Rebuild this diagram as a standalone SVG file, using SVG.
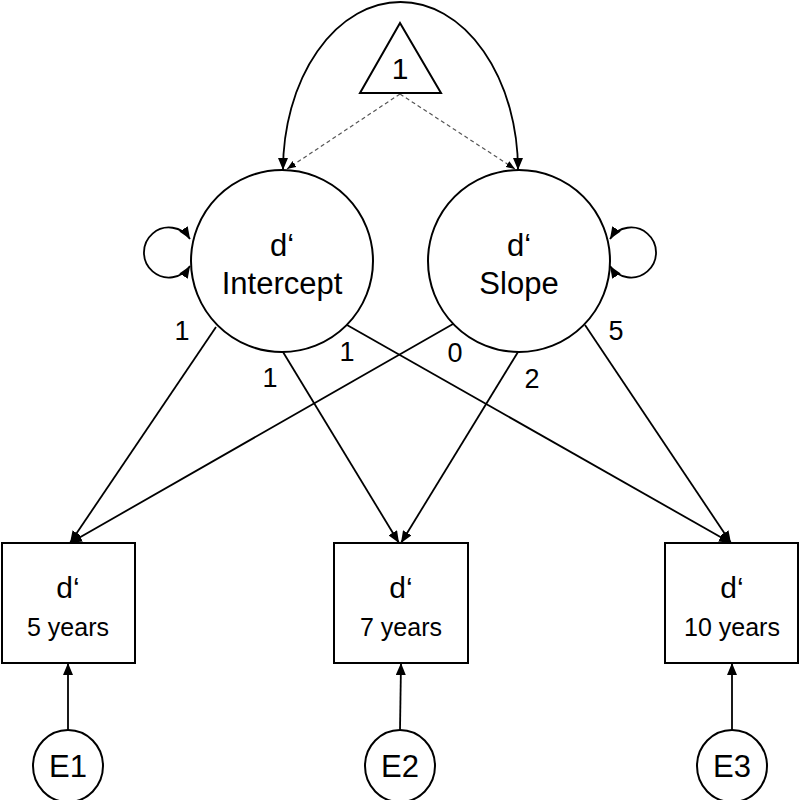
<svg xmlns="http://www.w3.org/2000/svg" width="800" height="800" viewBox="0 0 800 800">
<style>
.shape{fill:#fff;stroke:#000;stroke-width:2}
.lbl{font-family:"Liberation Sans",Arial,sans-serif;fill:#000;text-anchor:middle}
.big{font-size:31px}
.mid{font-size:27px}
.bd{font-size:30px}
.sm{font-size:25px}
.con{fill:none;stroke:#000;stroke-width:1.8}
.dash{fill:none;stroke:#555;stroke-width:1.2;stroke-dasharray:4 3}
</style>
<defs>
<marker id="ah" markerUnits="userSpaceOnUse" markerWidth="12" markerHeight="10" refX="12" refY="5" orient="auto-start-reverse">
<path d="M0,0 L12,5 L0,10 z" fill="#000"/>
</marker>
<marker id="ahs" markerUnits="userSpaceOnUse" markerWidth="9" markerHeight="7" refX="9" refY="3.5" orient="auto">
<path d="M0,0 L9,3.5 L0,7 z" fill="#000"/>
</marker>
</defs>
<rect width="800" height="800" fill="#fff"/>
<g id="connectors">
<path class="con" d="M283,170 A117.5 168 0 0 1 518,170" marker-start="url(#ah)" marker-end="url(#ah)"/>
<line class="dash" x1="400" y1="94" x2="287" y2="169" marker-end="url(#ahs)"/>
<line class="dash" x1="400" y1="94" x2="515" y2="169" marker-end="url(#ahs)"/>
<path class="con" d="M190,239 A25 25 0 1 0 190,266" marker-start="url(#ah)" marker-end="url(#ah)"/>
<path class="con" d="M610,239 A25 25 0 1 1 610,266" marker-start="url(#ah)" marker-end="url(#ah)"/>
<line class="con" x1="216" y1="327" x2="70" y2="543" marker-end="url(#ah)"/>
<line class="con" x1="453" y1="324" x2="70" y2="543" marker-end="url(#ah)"/>
<line class="con" x1="283" y1="352" x2="399" y2="543" marker-end="url(#ah)"/>
<line class="con" x1="518" y1="352" x2="401" y2="543" marker-end="url(#ah)"/>
<line class="con" x1="347" y1="325" x2="731" y2="543" marker-end="url(#ah)"/>
<line class="con" x1="585" y1="325" x2="731" y2="543" marker-end="url(#ah)"/>
<line class="con" x1="68" y1="730" x2="68" y2="663" marker-end="url(#ah)"/>
<line class="con" x1="400" y1="730" x2="401" y2="663" marker-end="url(#ah)"/>
<line class="con" x1="732" y1="730" x2="732" y2="663" marker-end="url(#ah)"/>
<text class="lbl mid" x="182" y="340">1</text>
<text class="lbl mid" x="270" y="387">1</text>
<text class="lbl mid" x="347" y="361">1</text>
<text class="lbl mid" x="455" y="362">0</text>
<text class="lbl mid" x="532" y="388">2</text>
<text class="lbl mid" x="616" y="340">5</text>
</g>
<g id="constant">
<polygon class="shape" points="400,23 360,93 441,93"/>
<text class="lbl bd" x="400" y="79">1</text>
</g>
<g id="intercept">
<circle class="shape" cx="282" cy="261" r="91"/>
<text class="lbl big" x="282" y="256">d‘</text>
<text class="lbl big" x="282" y="294">Intercept</text>
</g>
<g id="slope">
<circle class="shape" cx="519" cy="261" r="91"/>
<text class="lbl big" x="519" y="256">d‘</text>
<text class="lbl big" x="519" y="294">Slope</text>
</g>
<g id="y5">
<rect class="shape" x="2" y="543" width="133" height="120"/>
<text class="lbl bd" x="68" y="598">d‘</text>
<text class="lbl sm" x="68" y="636">5 years</text>
</g>
<g id="y7">
<rect class="shape" x="334" y="543" width="134" height="120"/>
<text class="lbl bd" x="401" y="598">d‘</text>
<text class="lbl sm" x="401" y="636">7 years</text>
</g>
<g id="y10">
<rect class="shape" x="665" y="543" width="133" height="120"/>
<text class="lbl bd" x="732" y="598">d‘</text>
<text class="lbl sm" x="732" y="636">10 years</text>
</g>
<g id="E1">
<ellipse class="shape" cx="68" cy="766" rx="35" ry="36"/>
<text class="lbl big" x="68" y="777">E1</text>
</g>
<g id="E2">
<ellipse class="shape" cx="400" cy="766" rx="35" ry="36"/>
<text class="lbl big" x="400" y="777">E2</text>
</g>
<g id="E3">
<ellipse class="shape" cx="732" cy="766" rx="35" ry="36"/>
<text class="lbl big" x="732" y="777">E3</text>
</g>
</svg>
